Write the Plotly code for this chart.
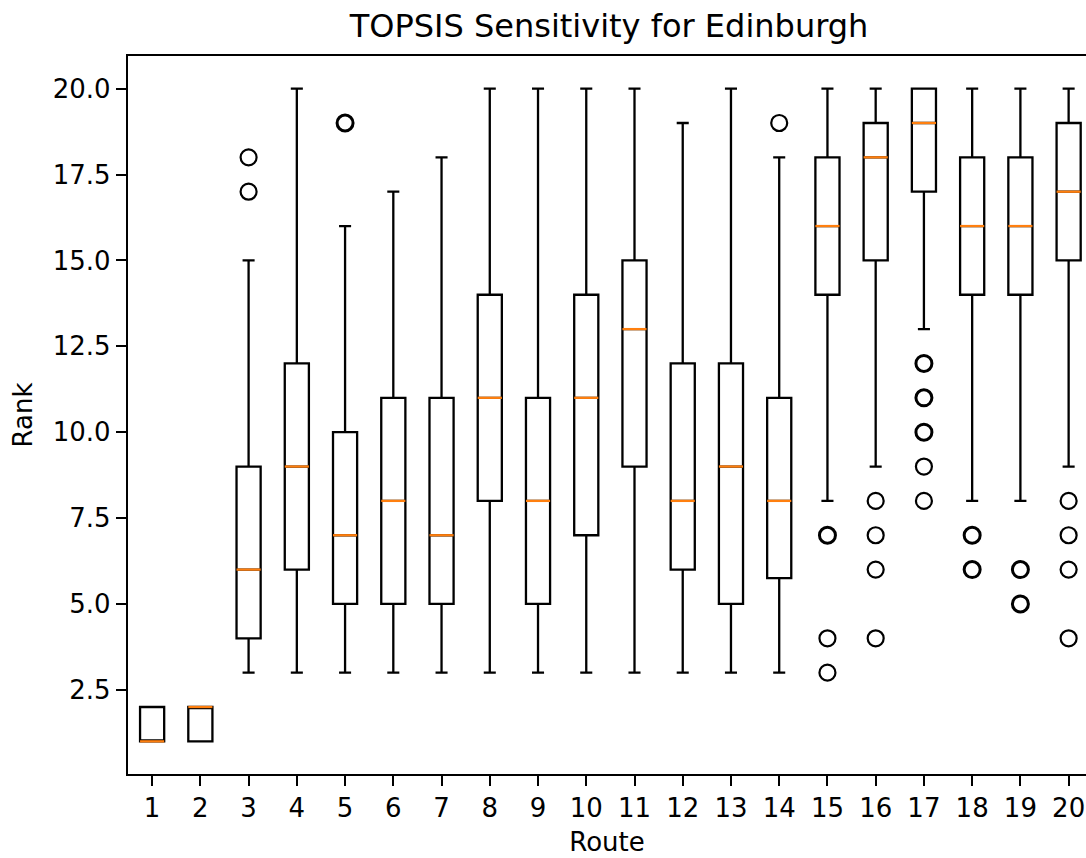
import plotly.graph_objects as go

# Rank distribution summary for each candidate route
routes = list(range(1, 21))
lower_whisker = [1, 1, 3, 3, 3, 3, 3, 3, 3, 3, 3, 3, 3, 3, 8, 9, 13, 8, 8, 9]
q1 = [1, 1, 4, 6, 5, 5, 5, 8, 5, 7, 9, 6, 5, 5.75, 14, 15, 17, 14, 14, 15]
median = [1, 2, 6, 9, 7, 8, 7, 11, 8, 11, 13, 8, 9, 8, 16, 18, 19, 16, 16, 17]
q3 = [2, 2, 9, 12, 10, 11, 11, 14, 11, 14, 15, 12, 12, 11, 18, 19, 20, 18, 18, 19]
upper_whisker = [2, 2, 15, 20, 16, 17, 18, 20, 20, 20, 20, 19, 20, 18, 20, 20, 20, 20, 20, 20]
outliers = [
    [], [], [17, 18], [], [19, 19], [], [], [], [], [], [], [], [], [19],
    [7, 7, 4, 3], [8, 7, 6, 4], [12, 12, 11, 11, 10, 10, 9, 8],
    [7, 7, 6, 6], [6, 6, 5, 5], [8, 7, 6, 4],
]
y_ticks = [2.5, 5.0, 7.5, 10.0, 12.5, 15.0, 17.5, 20.0]

FONT = "DejaVu Sans"
BOX_W = 0.5
LW = 2.3

fig = go.Figure()

fig.add_trace(go.Box(
    x=routes, q1=q1, median=median, q3=q3,
    lowerfence=lower_whisker, upperfence=upper_whisker,
    width=BOX_W, whiskerwidth=0.5,
    line=dict(color="black", width=LW),
    fillcolor="rgba(0,0,0,0)",
    boxpoints=False, showlegend=False, hoverinfo="skip",
))

# orange median segments drawn over the boxes
mx, my = [], []
for r, m in zip(routes, median):
    mx += [r - BOX_W / 2, r + BOX_W / 2, None]
    my += [m, m, None]
fig.add_trace(go.Scatter(
    x=mx, y=my, mode="lines",
    line=dict(color="#ff7f0e", width=LW),
    showlegend=False, hoverinfo="skip",
))

# fliers: repeated values overlap and read heavier
for bold in (False, True):
    ox, oy = [], []
    for r, vals in zip(routes, outliers):
        for v in sorted(set(vals)):
            if (vals.count(v) > 1) == bold:
                ox.append(r)
                oy.append(v)
    fig.add_trace(go.Scatter(
        x=ox, y=oy, mode="markers",
        marker=dict(symbol="circle-open", size=16, color="black",
                    line=dict(width=3.0 if bold else 2.2)),
        showlegend=False, hoverinfo="skip",
    ))

fig.update_layout(
    width=1086, height=858,
    margin=dict(l=128, r=0, t=56, b=84),
    paper_bgcolor="white", plot_bgcolor="white",
    font=dict(family=FONT, color="black", size=26),
    title=dict(
        text="TOPSIS Sensitivity for Edinburgh",
        font=dict(family=FONT, size=32, color="black"),
        x=609 / 1086, xanchor="center", xref="container",
        y=1 - 26 / 858, yanchor="middle", yref="container",
    ),
)

fig.update_xaxes(
    range=[0.5, 20.36], tickmode="array", tickvals=routes,
    ticktext=[str(r) for r in routes],
    showgrid=False, zeroline=False,
    showline=True, linecolor="black", linewidth=LW, mirror=True,
    ticks="outside", ticklen=10, tickwidth=LW, tickcolor="black",
    tickfont=dict(size=26, family=FONT),
    title=dict(text="Route", font=dict(size=26, family=FONT), standoff=10),
)
fig.update_yaxes(
    range=[0.05, 20.95], tickmode="array", tickvals=y_ticks,
    ticktext=[f"{v:.1f}" for v in y_ticks],
    showgrid=False, zeroline=False,
    showline=True, linecolor="black", linewidth=LW, mirror=False,
    ticks="outside", ticklen=10, tickwidth=LW, tickcolor="black",
    tickfont=dict(size=26, family=FONT),
    title=dict(text="Rank", font=dict(size=26, family=FONT), standoff=13),
)

fig.write_html("out.html")
